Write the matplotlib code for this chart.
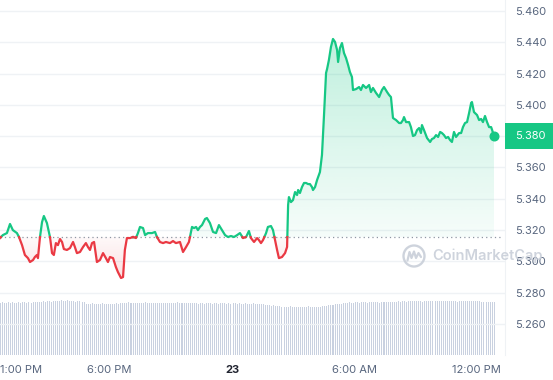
import numpy as np
import matplotlib
matplotlib.use("Agg")
import matplotlib.pyplot as plt
from matplotlib.path import Path
from matplotlib.patches import Circle, Rectangle
from matplotlib.colors import to_rgb
import matplotlib.transforms as mtrans

plt.rcParams['font.family'] = ['Inter', 'DejaVu Sans']

# ---------------- data ----------------
# hours relative to 00:00 on the 23rd
hours = [
    -11.37, -11.23, -11.03, -10.88, -10.74, -10.54, -10.44, -10.29, -10.15, -10.00,
    -9.90, -9.75, -9.66, -9.56, -9.51, -9.41, -9.31, -9.22, -9.07, -8.92,
    -8.82, -8.73, -8.63, -8.53, -8.43, -8.33, -8.24, -8.09, -7.94, -7.79,
    -7.70, -7.60, -7.45, -7.30, -7.16, -7.06, -6.96, -6.86, -6.76, -6.62,
    -6.47, -6.32, -6.18, -6.08, -5.98, -5.83, -5.69, -5.59, -5.44, -5.34,
    -5.25, -5.15, -5.00, -4.85, -4.71, -4.61, -4.51, -4.36, -4.26, -4.12,
    -3.92, -3.77, -3.68, -3.53, -3.38, -3.24, -3.04, -2.89, -2.75, -2.55,
    -2.40, -2.25, -2.11, -2.01, -1.96, -1.86, -1.76, -1.67, -1.57, -1.47,
    -1.32, -1.23, -1.08, -0.93, -0.78, -0.64, -0.49, -0.34, -0.20, -0.05,
    0.10, 0.25, 0.39, 0.54, 0.69, 0.83, 0.93, 1.08, 1.23, 1.32,
    1.42, 1.52, 1.67, 1.76, 1.91, 2.01, 2.11, 2.21, 2.30, 2.45,
    2.60, 2.70, 2.75, 2.79, 2.89, 2.99, 3.09, 3.19, 3.24, 3.33,
    3.43, 3.53, 3.63, 3.73, 3.82, 3.92, 3.97, 4.07, 4.17, 4.26,
    4.31, 4.41, 4.51, 4.61, 4.66, 4.75, 4.85, 4.95, 5.05, 5.15,
    5.20, 5.29, 5.39, 5.49, 5.59, 5.69, 5.78, 5.88, 5.93, 6.08,
    6.23, 6.32, 6.42, 6.57, 6.72, 6.81, 6.91, 7.06, 7.21, 7.35,
    7.45, 7.60, 7.70, 7.79, 7.89, 8.04, 8.19, 8.28, 8.38, 8.43,
    8.53, 8.68, 8.77, 8.87, 8.97, 9.07, 9.17, 9.26, 9.31, 9.41,
    9.56, 9.71, 9.80, 9.90, 10.00, 10.10, 10.20, 10.29, 10.39, 10.49,
    10.59, 10.69, 10.78, 10.88, 10.98, 11.13, 11.23, 11.32, 11.42, 11.52,
    11.62, 11.72, 11.76, 11.86, 12.01, 12.11, 12.21, 12.30, 12.40, 12.50,
    12.60, 12.70, 12.75, 12.84,
]

price = [
    5.3149, 5.3168, 5.3181, 5.3239, 5.3200, 5.3181, 5.3156, 5.3104, 5.3041, 5.3021,
    5.2996, 5.3009, 5.3028, 5.3041, 5.3021, 5.3156, 5.3251, 5.3290, 5.3245, 5.3156,
    5.3053, 5.3041, 5.3117, 5.3104, 5.3143, 5.3124, 5.3079, 5.3073, 5.3085, 5.3124,
    5.3092, 5.3053, 5.3060, 5.3092, 5.3117, 5.3092, 5.3073, 5.3117, 5.3124, 5.2996,
    5.3009, 5.3053, 5.3021, 5.2996, 5.3028, 5.3021, 5.2964, 5.2932, 5.2894, 5.2900,
    5.3073, 5.3149, 5.3149, 5.3156, 5.3149, 5.3181, 5.3220, 5.3213, 5.3168, 5.3181,
    5.3181, 5.3188, 5.3156, 5.3124, 5.3117, 5.3124, 5.3117, 5.3130, 5.3117, 5.3124,
    5.3060, 5.3092, 5.3124, 5.3188, 5.3220, 5.3213, 5.3220, 5.3200, 5.3220, 5.3232,
    5.3271, 5.3277, 5.3245, 5.3188, 5.3181, 5.3232, 5.3200, 5.3168, 5.3156, 5.3162,
    5.3156, 5.3168, 5.3181, 5.3149, 5.3156, 5.3194, 5.3149, 5.3124, 5.3149, 5.3136,
    5.3117, 5.3136, 5.3181, 5.3220, 5.3226, 5.3200, 5.3136, 5.3073, 5.3021, 5.3028,
    5.3053, 5.3092, 5.3360, 5.3411, 5.3379, 5.3392, 5.3443, 5.3424, 5.3456, 5.3437,
    5.3475, 5.3501, 5.3501, 5.3494, 5.3494, 5.3475, 5.3456, 5.3475, 5.3520, 5.3552,
    5.3571, 5.3680, 5.3935, 5.4204, 5.4229, 5.4287, 5.4370, 5.4421, 5.4402, 5.4351,
    5.4274, 5.4363, 5.4395, 5.4331, 5.4299, 5.4255, 5.4210, 5.4178, 5.4095, 5.4101,
    5.4114, 5.4095, 5.4127, 5.4108, 5.4127, 5.4082, 5.4108, 5.4076, 5.4050, 5.4095,
    5.4114, 5.4082, 5.4063, 5.4050, 5.3916, 5.3903, 5.3884, 5.3884, 5.3903, 5.3922,
    5.3890, 5.3890, 5.3858, 5.3801, 5.3807, 5.3839, 5.3852, 5.3820, 5.3871, 5.3839,
    5.3788, 5.3763, 5.3782, 5.3788, 5.3807, 5.3795, 5.3827, 5.3820, 5.3807, 5.3788,
    5.3795, 5.3775, 5.3763, 5.3827, 5.3795, 5.3820, 5.3820, 5.3858, 5.3884, 5.3890,
    5.3948, 5.4012, 5.4018, 5.3954, 5.3935, 5.3903, 5.3910, 5.3890, 5.3929, 5.3890,
    5.3858, 5.3858, 5.3839, 5.3801,
]

# volume bars (relative units), one per 6 minutes
volume = [
    52, 53, 52, 52, 53, 52, 53, 52, 52, 53, 52, 53, 53, 52, 53, 52, 53, 53, 53, 53,
    53, 54, 53, 54, 54, 53, 54, 54, 54, 54, 55, 54, 54, 55, 54, 54, 54, 53, 54, 54, 53, 53,
    51, 51, 51, 52, 51, 51, 51, 51, 52, 51, 51, 51, 51, 51, 51, 52, 51,
    52, 52, 52, 52, 53, 52, 52, 52, 52, 52, 52, 52, 53, 52, 52, 52, 52, 52, 52, 52,
    52, 52, 52, 52, 52, 52, 52, 52, 53, 52, 52, 52, 52, 52, 52, 52, 52,
    52, 51, 52, 52, 51, 52, 52, 52, 51, 52, 52, 51, 52, 52, 52, 51, 52, 51, 52, 52,
    51, 52, 51, 51, 52, 51, 51, 51, 52, 51, 51, 51, 51, 51,
    50, 50, 50, 49, 50, 49, 49, 49,
    48, 48, 48, 48, 49, 48, 48, 48, 48, 48, 48, 48, 48, 49, 48, 48, 48, 48, 48, 48, 49, 49,
    49, 50, 50, 50, 51, 51, 51, 51,
    52, 52, 52, 53, 52, 52, 53, 53, 52, 53, 53, 53, 52, 53, 53, 53, 53, 53, 52, 53,
    53, 53, 53, 53, 53, 53, 53, 54, 53,
    54, 54, 53, 54, 54, 54, 54, 54, 54, 54, 53, 54, 54, 54, 54, 54, 54, 54, 54, 54, 54, 54, 54,
    54, 54, 54, 54, 53, 54, 54, 54, 54, 54, 54, 54, 54, 54, 54, 54, 53, 53, 53, 53, 53, 53, 53,
]

baseline = 5.3155
last_price = 5.380
ytick_vals = [5.260, 5.280, 5.300, 5.320, 5.340, 5.360, 5.380, 5.400, 5.420, 5.440, 5.460]
xtick_hours = [-11, -6, 0, 6, 12]
xtick_labels = ['1:00 PM', '6:00 PM', '23', '6:00 AM', '12:00 PM']

GREEN = '#16c784'
RED = '#ea3943'
LABEL = '#58667e'
GRID = '#eff2f5'

# ---------------- figure ----------------
fig = plt.figure(figsize=(5.53, 3.80), dpi=100)
rect = [0.0, 25 / 380, 505 / 553, 355 / 380]
axv = fig.add_axes(rect)
ax = fig.add_axes(rect)
ax.patch.set_alpha(0)

x = np.array(hours)
y = np.array(price)
XMIN, XMAX = -11.37, 13.38
YMIN, YMAX = 5.2402, 5.4670

# volume
vh = -11.35 + 0.1 * np.arange(len(volume))
axv.bar(vh, volume, width=0.05, color='#c9d1e0', linewidth=0, antialiased=False)
axv.set_xlim(XMIN, XMAX)
axv.set_ylim(0, 355)
axv.axis('off')

# split line at baseline crossings
xs, ys = [x[0]], [y[0]]
for i in range(1, len(x)):
    if (y[i - 1] - baseline) * (y[i] - baseline) < 0:
        t = (baseline - y[i - 1]) / (y[i] - y[i - 1])
        xs.append(x[i - 1] + t * (x[i] - x[i - 1]))
        ys.append(baseline)
    xs.append(x[i])
    ys.append(y[i])
xs = np.array(xs)
ys = np.array(ys)


def grad_fill(mask, color, y0, y1, a0, a1):
    coll = ax.fill_between(xs, ys, baseline, where=mask, facecolor='none',
                           edgecolor='none', interpolate=True)
    paths = coll.get_paths()
    if not paths:
        return
    comp = Path.make_compound_path(*paths)
    n = 256
    img = np.zeros((n, 1, 4))
    img[..., :3] = to_rgb(color)
    img[:, 0, 3] = np.linspace(a0, a1, n)
    im = ax.imshow(img, extent=[XMIN, XMAX, y0, y1], origin='lower',
                   aspect='auto', zorder=1, interpolation='bilinear')
    im.set_clip_path(comp, transform=ax.transData)


grad_fill(ys >= baseline, GREEN, baseline, ys.max(), 0.04, 0.27)
grad_fill(ys <= baseline, RED, ys.min(), baseline, 0.16, 0.03)

up = np.where(ys >= baseline, ys, np.nan)
dn = np.where(ys <= baseline, ys, np.nan)
ax.plot(xs, up, color=GREEN, lw=1.6, zorder=3, solid_joinstyle='round')
ax.plot(xs, dn, color=RED, lw=1.6, zorder=3, solid_joinstyle='round')

ax.axhline(baseline, xmax=0.99, color='#8e96a3', lw=0.9, ls=(0, (1, 2.5)), zorder=2)
ax.plot(x[-1], y[-1], 'o', color=GREEN, ms=6.2, zorder=4)

ax.set_xlim(XMIN, XMAX)
ax.set_ylim(YMIN, YMAX)

# y axis on the right
ax.yaxis.tick_right()
ax.set_yticks(ytick_vals)
ax.set_yticklabels([f'{v:.3f}' for v in ytick_vals])
ax.tick_params(axis='y', length=0, pad=7.5, labelsize=8, labelcolor=LABEL)
ax.yaxis.grid(True, color=GRID, lw=1)
ax.set_axisbelow(True)

ax.set_xticks(xtick_hours)
ax.set_xticklabels(xtick_labels)
ax.tick_params(axis='x', length=0, pad=7, labelsize=8, labelcolor=LABEL)
lbls = ax.get_xticklabels()
lbls[2].set_fontweight('bold')
lbls[2].set_color('#222531')
lbls[0].set_horizontalalignment('left')
lbls[0].set_transform(lbls[0].get_transform() +
                      mtrans.ScaledTranslation(-0.075, 0, fig.dpi_scale_trans))

for s in ['top', 'left', 'bottom']:
    ax.spines[s].set_visible(False)
ax.spines['right'].set_color(GRID)

# current price box
bt = mtrans.blended_transform_factory(fig.transFigure, ax.transData)
box = Rectangle((505 / 553, last_price - 0.0081), 48 / 553, 0.0162, transform=bt,
                facecolor=GREEN, edgecolor='none', zorder=6, clip_on=False)
fig.add_artist(box)
fig.text(515 / 553, 0, f'{last_price:.3f}', transform=bt, color='white', fontsize=8,
         va='center', ha='left', zorder=7)
fig.texts[-1].set_y(last_price)

# watermark
ov = fig.add_axes([0, 0, 1, 1])
ov.set_xlim(0, 553)
ov.set_ylim(380, 0)
ov.axis('off')
ov.patch.set_alpha(0)
wm = '#c9cfd9'
ov.add_patch(Circle((414, 256), 10.5, fill=False, ec=wm, lw=1.7, alpha=0.9))
ov.plot([407.5, 409.5, 411.5, 414, 416, 418.5, 421],
        [260.5, 252, 258, 251.5, 258, 253, 257], color=wm, lw=1.6,
        solid_joinstyle='round', solid_capstyle='round', alpha=0.9)
ov.text(432, 256, 'CoinMarketCap', color=wm, fontsize=10.5, fontweight='semibold',
        va='center', ha='left', alpha=0.9)

fig.savefig('out.png', dpi=100)
